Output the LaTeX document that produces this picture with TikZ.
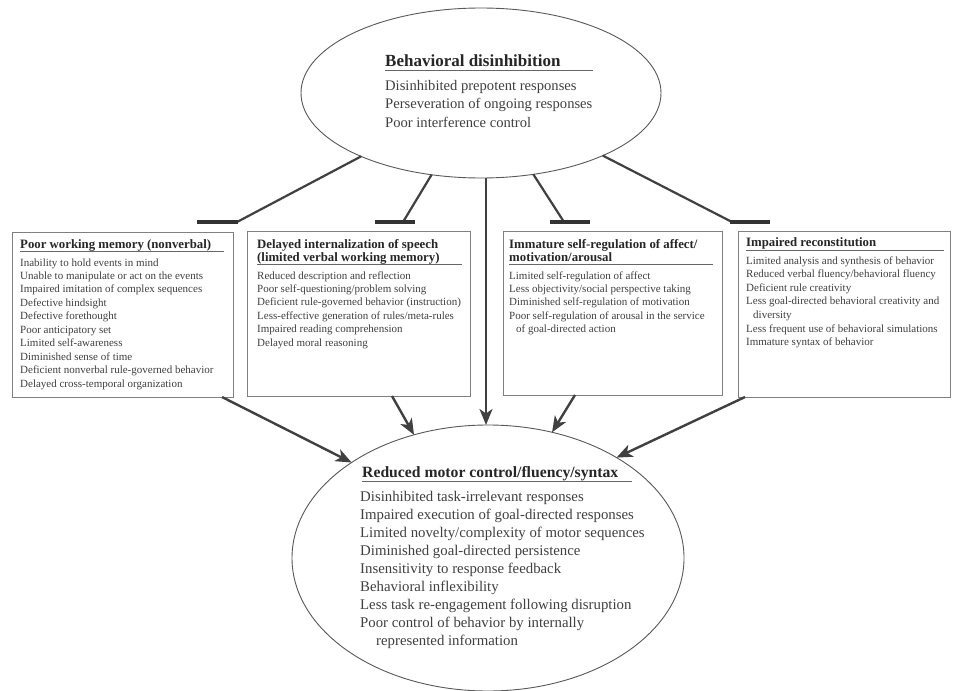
\documentclass[tikz,border=0pt]{standalone}
\usepackage{fontspec}
\setmainfont{Liberation Serif}
\usetikzlibrary{shapes.geometric,arrows.meta,calc}
\begin{document}
\begin{tikzpicture}[x=1pt,y=-1pt,
  ell/.style={ellipse,draw=black!65,line width=0.9pt,inner sep=0pt,outer sep=0pt},
  bx/.style={draw=black!50,line width=0.7pt,anchor=north west,inner sep=0pt,outer sep=0pt},
  arr/.style={draw=black!75,line width=2.4pt,-{Stealth[length=16pt,width=13pt,inset=4.5pt]}},
  inh/.style={draw=black!75,line width=2.2pt},
  tbar/.style={draw=black!80,line width=4pt},
  ul/.style={draw=black!60,line width=0.6pt},
  hd/.style={anchor=base west,inner sep=0pt,text=black!85,font=\fontsize{12.8}{13.5}\selectfont\bfseries},
  tx/.style={anchor=base west,inner sep=0pt,text=black!75,font=\fontsize{11}{13.5}\selectfont},
  bighd/.style={anchor=base west,inner sep=0pt,text=black!85,font=\fontsize{17}{18}\selectfont\bfseries},
  bigtx/.style={anchor=base west,inner sep=0pt,text=black!75,font=\fontsize{14.6}{18}\selectfont},
  midhd/.style={anchor=base west,inner sep=0pt,text=black!85,font=\fontsize{15.7}{18}\selectfont\bfseries},
  midtx/.style={anchor=base west,inner sep=0pt,text=black!75,font=\fontsize{14.8}{18}\selectfont}
]
\fill[white] (0,0) rectangle (957,690);
\useasboundingbox (0,0) rectangle (957,690);

% ellipses
\node[ell,minimum width=360pt,minimum height=170pt] (top) at (481,93) {};
\node[ell,minimum width=392pt,minimum height=266pt] (bot) at (488,558) {};

% boxes
\node[bx,minimum width=221pt,minimum height=165pt] (box1) at (12,232) {};
\node[bx,minimum width=223pt,minimum height=165pt] (box2) at (247,231) {};
\node[bx,minimum width=219pt,minimum height=164pt] (box3) at (503,231) {};
\node[bx,minimum width=212pt,minimum height=166pt] (box4) at (738,231) {};

% top ellipse text
\node[bighd] (toph) at (385,67) {Behavioral disinhibition};
\draw[ul] (385,70.5) -- (593,70.5);
\foreach \t [count=\i] in {{Disinhibited prepotent responses},{Perseveration of ongoing responses},{Poor interference control}}
  \node[bigtx] (topl\i) at (385,{91+18*(\i-1)}) {\t};

% bottom ellipse text
\node[midhd] (both) at (362,477) {Reduced motor control/fluency/syntax};
\draw[ul] (362,481) -- (632,481);
\foreach \t [count=\i] in {{Disinhibited task-irrelevant responses},{Impaired execution of goal-directed responses},{Limited novelty/complexity of motor sequences},{Diminished goal-directed persistence},{Insensitivity to response feedback},{Behavioral inflexibility},{Less task re-engagement following disruption},{Poor control of behavior by internally},{\hspace*{16pt}represented information}}
  \node[midtx] (botl\i) at (360,{501+18*(\i-1)}) {\t};

% box 1
\node[hd] (h1) at (20,248) {Poor working memory (nonverbal)};
\draw[ul] (20,251.5) -- (224,251.5);
\foreach \t [count=\i] in {{Inability to hold events in mind},{Unable to manipulate or act on the events},{Impaired imitation of complex sequences},{Defective hindsight},{Defective forethought},{Poor anticipatory set},{Limited self-awareness},{Diminished sense of time},{Deficient nonverbal rule-governed behavior},{Delayed cross-temporal organization}}
  \node[tx] (b1l\i) at (20,{266+13.45*(\i-1)}) {\t};

% box 2
\node[hd] (h2a) at (257,248) {Delayed internalization of speech};
\node[hd] (h2b) at (257,261) {(limited verbal working memory)};
\draw[ul] (257,264.5) -- (462,264.5);
\foreach \t [count=\i] in {{Reduced description and reflection},{Poor self-questioning/problem solving},{Deficient rule-governed behavior (instruction)},{Less-effective generation of rules/meta-rules},{Impaired reading comprehension},{Delayed moral reasoning}}
  \node[tx] (b2l\i) at (257,{279+13.4*(\i-1)}) {\t};

% box 3
\node[hd] (h3a) at (509,248) {Immature self-regulation of affect/};
\node[hd] (h3b) at (509,261) {motivation/arousal};
\draw[ul] (509,264.5) -- (713,264.5);
\foreach \t [count=\i] in {{Limited self-regulation of affect},{Less objectivity/social perspective taking},{Diminished self-regulation of motivation},{Poor self-regulation of arousal in the service},{\hspace*{7pt}of goal-directed action}}
  \node[tx] (b3l\i) at (509,{279+13.4*(\i-1)}) {\t};

% box 4
\node[hd] (h4) at (746,246.5) {Impaired reconstitution};
\draw[ul] (746,250) -- (944,250);
\foreach \t [count=\i] in {{Limited analysis and synthesis of behavior},{Reduced verbal fluency/behavioral fluency},{Deficient rule creativity},{Less goal-directed behavioral creativity and},{\hspace*{7pt}diversity},{Less frequent use of behavioral simulations},{Immature syntax of behavior}}
  \node[tx] (b4l\i) at (746,{264+13.6*(\i-1)}) {\t};

% inhibition bars
\coordinate (b1w) at (197,222); \coordinate (b1e) at (238,222); \coordinate (b1j) at (237,222);
\coordinate (b2w) at (375,222); \coordinate (b2e) at (415,222); \coordinate (b2j) at (403,222);
\coordinate (b3w) at (550,222); \coordinate (b3e) at (590,222); \coordinate (b3j) at (564,222);
\coordinate (b4w) at (730,222); \coordinate (b4e) at (770,222); \coordinate (b4j) at (732,222);
\draw[inh] (top) -- (b1j);
\draw[inh] (top) -- (b2j);
\draw[inh] (top) -- (b3j);
\draw[inh] (top) -- (b4j);
\draw[tbar] (b1w) -- (b1e);
\draw[tbar] (b2w) -- (b2e);
\draw[tbar] (b3w) -- (b3e);
\draw[tbar] (b4w) -- (b4e);

% arrows to bottom ellipse
\coordinate (vx) at (486,0);
\draw[arr] (top.south -| vx) -- (bot.north -| vx);
\draw[arr] ($(box1.south east)+(-11,0)$) -- (bot.145);
\draw[arr] ($(box2.south west)+(145,0)$) -- (bot.121);
\draw[arr] ($(box3.south west)+(72,0)$) -- (bot.63);
\draw[arr] ($(box4.south west)+(7,0)$) -- (bot.38);
\end{tikzpicture}
\end{document}
